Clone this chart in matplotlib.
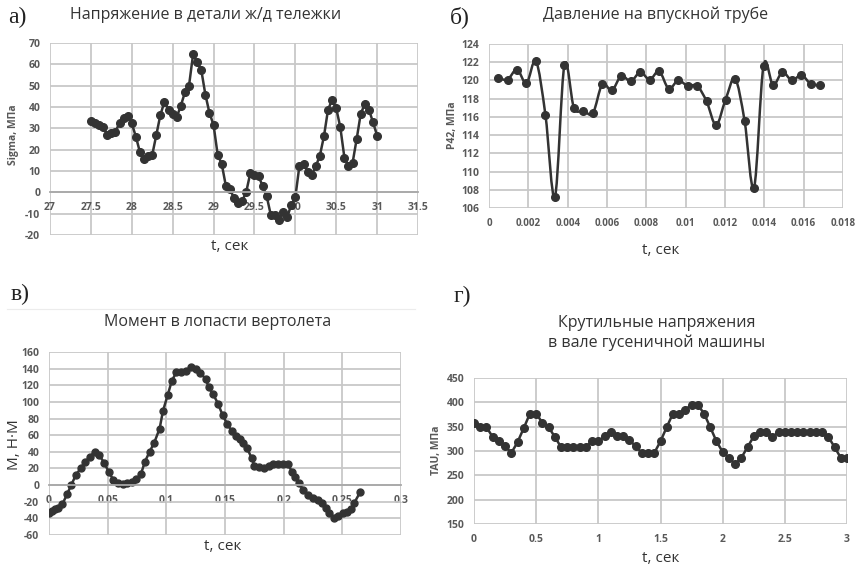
import numpy as np
import matplotlib
matplotlib.use('Agg')
import matplotlib.pyplot as plt
from matplotlib.path import Path
from matplotlib.patches import PathPatch
from matplotlib.lines import Line2D

plt.rcParams['font.family'] = ['Open Sans', 'DejaVu Sans']

# а) напряжение в детали ж/д тележки
t_a = np.round(np.arange(27.5, 31.001, 0.05), 2)
sigma = [33.6, 32.5, 31.6, 30.8, 26.9, 27.8, 28.4, 32.5, 34.7, 35.8,
         32.3, 26.1, 18.8, 15.6, 17.2, 17.5, 26.9, 36.3, 42.5, 38.8,
         36.9, 35.3, 40.6, 46.9, 50.0, 64.8, 60.9, 57.3, 45.8, 37.2,
         31.6, 17.7, 13.3, 3.1, 1.6, -2.8, -5.0, -4.1, 0.3, 9.1,
         8.1, 7.5, 3.1, -1.9, -10.6, -10.6, -12.8, -9.1, -11.7, -5.9,
         -2.3, 12.5, 13.1, 9.7, 8.1, 12.2, 17.2, 26.3, 38.8, 43.3,
         39.4, 30.5, 16.3, 12.5, 13.8, 25.0, 36.9, 41.4, 38.8, 32.8, 26.6]
xt_a = [27, 27.5, 28, 28.5, 29, 29.5, 30, 30.5, 31, 31.5]
xl_a = ['27', '27.5', '28', '28.5', '29', '29.5', '30', '30.5', '31', '31.5']
yt_a = list(range(-20, 71, 10))

# б) давление на впускной трубе
t_b = np.linspace(0.00046, 0.01685, 35)
p42 = [120.3, 120.1, 121.2, 119.7, 122.1, 116.2, 107.2, 121.7, 117.0, 116.7,
       116.4, 119.6, 118.9, 120.5, 119.9, 120.9, 120.1, 121.0, 119.1, 120.0,
       119.4, 119.4, 117.7, 115.1, 117.9, 120.2, 115.6, 108.2, 121.6, 119.5,
       120.9, 120.0, 120.6, 119.6, 119.5]
xt_b = [0, 0.002, 0.004, 0.006, 0.008, 0.01, 0.012, 0.014, 0.016, 0.018]
xl_b = ['0', '0.002', '0.004', '0.006', '0.008', '0.01', '0.012', '0.014', '0.016', '0.018']
yt_b = list(range(106, 125, 2))

# в) момент в лопасти вертолета
t_c = [0.0, 0.0023, 0.0051, 0.008, 0.0114, 0.0154, 0.0189, 0.0229, 0.0269, 0.0309,
       0.0349, 0.0389, 0.0429, 0.0469, 0.0509, 0.0549, 0.0589, 0.0629, 0.0669, 0.0709,
       0.0743, 0.0783, 0.0817, 0.0857, 0.0897, 0.0943, 0.0971, 0.1011, 0.1046, 0.1086,
       0.1126, 0.1166, 0.1211, 0.1251, 0.1291, 0.1337, 0.136, 0.14, 0.144, 0.148,
       0.1517, 0.1557, 0.1591, 0.1626, 0.1654, 0.1689, 0.1729, 0.1751, 0.1791, 0.1831,
       0.1871, 0.1911, 0.1951, 0.1997, 0.2037, 0.2071, 0.21, 0.2129, 0.2169, 0.2209,
       0.2249, 0.2289, 0.2323, 0.2363, 0.2386, 0.2426, 0.2466, 0.2506, 0.254, 0.2574,
       0.2603, 0.2654]
moment = [-33, -31, -29, -27, -23, -11, 0, 12, 20, 28,
          34, 40, 36, 27, 16, 6, 2, 1, 3, 4,
          7, 13, 28, 40, 51, 68, 89, 108, 125, 136,
          136, 137, 142, 139, 135, 127, 118, 109, 98, 84,
          74, 65, 59, 55, 51, 44, 32, 23, 22, 20,
          23, 25, 25, 25, 25, 16, 10, 2, -6, -12,
          -15, -18, -22, -27, -33, -39, -37, -34, -32, -29,
          -21, -8]
xt_c = [0, 0.05, 0.1, 0.15, 0.2, 0.25, 0.3]
xl_c = ['0', '0.05', '0.1', '0.15', '0.2', '0.25', '0.3']
yt_c = list(range(-60, 161, 20))

# г) крутильные напряжения в вале
t_d = np.round(np.arange(0, 3.001, 0.05), 2)
tau = [358, 349, 349, 329, 320, 310, 296, 318, 347, 377,
       377, 358, 349, 329, 308, 308, 308, 308, 308, 320,
       320, 330, 340, 331, 331, 322, 310, 296, 296, 296,
       320, 349, 377, 377, 385, 395, 395, 377, 349, 320,
       298, 286, 273, 286, 308, 330, 339, 339, 329, 339,
       339, 339, 339, 339, 339, 339, 339, 329, 308, 286, 286]
xt_d = [0, 0.5, 1, 1.5, 2, 2.5, 3]
xl_d = ['0', '0.5', '1', '1.5', '2', '2.5', '3']
yt_d = list(range(150, 451, 50))

LINE = '#333333'
GRID = '#c8c8c8'
TICK = '#595959'
W, H = 859, 566


def box(l, t, r, b):
    # пиксели -> доли фигуры
    return [l / W, 1 - b / H, (r - l) / W, (b - t) / H]


def setup(ax, xt, xl, yt, at_zero=False):
    ax.set_xlim(xt[0], xt[-1])
    ax.set_ylim(yt[0], yt[-1])
    ax.set_xticks(xt)
    ax.set_xticklabels(xl)
    ax.set_yticks(yt)
    ax.set_yticklabels([str(v) for v in yt])
    ax.grid(True, color=GRID, linewidth=1.3)
    ax.set_axisbelow(True)
    for s in ax.spines.values():
        s.set_visible(False)
    if at_zero:
        ax.spines['bottom'].set_visible(True)
        ax.spines['bottom'].set_position(('data', 0))
        ax.spines['bottom'].set_color('#a8a8a8')
        ax.spines['bottom'].set_linewidth(1.3)
    ax.tick_params(length=0, labelsize=7.5, labelcolor=TICK, pad=7)
    for lab in ax.get_xticklabels() + ax.get_yticklabels():
        lab.set_fontweight('bold')


def smooth_path(x, y):
    # сглаженная линия как в Excel (кубические Безье через точки)
    x = np.asarray(x, float)
    y = np.asarray(y, float)
    n = len(x)
    verts = [(x[0], y[0])]
    codes = [Path.MOVETO]
    for i in range(n - 1):
        i0 = max(i - 1, 0)
        i3 = min(i + 2, n - 1)
        c1 = (x[i] + (x[i + 1] - x[i0]) / 6, y[i] + (y[i + 1] - y[i0]) / 6)
        c2 = (x[i + 1] - (x[i3] - x[i]) / 6, y[i + 1] - (y[i3] - y[i]) / 6)
        verts += [c1, c2, (x[i + 1], y[i + 1])]
        codes += [Path.CURVE4] * 3
    return Path(verts, codes)


fig = plt.figure(figsize=(W / 100, H / 100), dpi=100)

# а)
ax1 = fig.add_axes(box(50, 43, 418, 235))
ax1.plot(t_a, sigma, color=LINE, lw=1.8, marker='o', ms=5.5)
setup(ax1, xt_a, xl_a, yt_a, at_zero=True)

# б)
ax2 = fig.add_axes(box(489, 44, 843, 208))
ax2.add_patch(PathPatch(smooth_path(t_b, p42), facecolor='none', edgecolor=LINE, lw=1.8))
ax2.plot(t_b, p42, linestyle='none', color=LINE, marker='o', ms=5.5)
setup(ax2, xt_b, xl_b, yt_b)
ax2.tick_params(axis='x', labelsize=7)

# в)
ax3 = fig.add_axes(box(49, 352, 401, 535))
ax3.plot(t_c, moment, color=LINE, lw=1.8, marker='o', ms=5)
setup(ax3, xt_c, xl_c, yt_c, at_zero=True)

# г)
ax4 = fig.add_axes(box(474, 378, 847, 524))
ax4.plot(t_d, tau, color=LINE, lw=1.8, marker='o', ms=5.5)
setup(ax4, xt_d, xl_d, yt_d)


def ftext(x, y, s, **kw):
    fig.text(x / W, 1 - y / H, s, ha='center', va='center', **kw)


SERIF = ['Liberation Serif', 'DejaVu Serif']
for x, y, s in [(17, 17, 'а)'), (460, 17, 'б)'), (20, 294, 'в)'), (462, 296, 'г)')]:
    ftext(x, y, s, family=SERIF, fontsize=17, color='#222222')

TCOL = '#333333'
ftext(206, 15, 'Напряжение в детали ж/д тележки', fontsize=11.5, color=TCOL)
ftext(656, 15, 'Давление на впускной трубе', fontsize=11.5, color=TCOL)
ftext(218, 322, 'Момент в лопасти вертолета', fontsize=11.5, color=TCOL)
ftext(657, 323, 'Крутильные напряжения', fontsize=11.5, color=TCOL)
ftext(657, 343, 'в вале гусеничной машины', fontsize=11.5, color=TCOL)

ftext(230, 247, 't, сек', fontsize=11, color=TCOL)
ftext(661, 251, 't, сек', fontsize=11, color=TCOL)
ftext(223, 547, 't, сек', fontsize=11, color=TCOL)
ftext(661, 558, 't, сек', fontsize=11, color=TCOL)

ftext(14, 135, 'Sigma, МПа', fontsize=7.5, rotation=90, color=TICK, fontweight='bold')
ftext(452, 125, 'P42, МПа', fontsize=7.5, rotation=90, color=TICK, fontweight='bold')
ftext(15, 445, 'М, Н·М', fontsize=11, rotation=90, color=TCOL)
ftext(437, 450, 'TAU, МПа', fontsize=7.5, rotation=90, color=TICK, fontweight='bold')

# бледная линия-разделитель над графиком в)
fig.add_artist(Line2D([7 / W, 415 / W], [1 - 309 / H, 1 - 309 / H], color='#ececec', lw=0.8))

fig.savefig('out.png', dpi=100)
